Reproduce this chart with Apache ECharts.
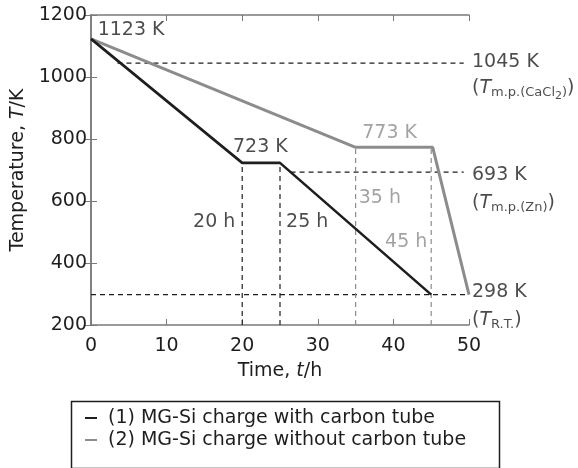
<!DOCTYPE html>
<html>
<head>
<meta charset="utf-8" />
<title>Cooling curves</title>
<script src="https://cdn.jsdelivr.net/npm/echarts@6/dist/echarts.min.js"></script>
<style>
  html, body { margin: 0; padding: 0; background: #fff; }
  #main { width: 578px; height: 468px; }
</style>
</head>
<body>
<div id="main"></div>
<script>
// data
var time1 = [0, 20, 25, 45];
var temp1 = [1123, 723, 723, 298];
var time2 = [0, 35, 45.2, 50];
var temp2 = [1123, 773, 773, 298];
var seriesNames = ['(1) MG-Si charge with carbon tube', '(2) MG-Si charge without carbon tube'];
// horizontal guide lines: [t from, t to, T]
var hGuides = [[3.5, 49.3, 1045], [26.4, 49.3, 693], [0, 49.5, 298]];
// vertical guide lines: [t, T top]
var vGuidesBlack = [[20, 723], [25, 723]];
var vGuidesGrey = [[35, 773], [45, 773]];

var BLACK = '#1e1e1e';
var GREY = '#8c8c8c';
var AXIS = '#7a7a7a';
var FONT = '"DejaVu Sans", sans-serif';

function pairs(xs, ys) {
  return xs.map(function (x, i) { return [x, ys[i]]; });
}

var myChart = echarts.init(document.getElementById('main'), null, { renderer: 'canvas' });

// text annotations, placed in data coords
var notes = [
  { value: [5.3, 1152], text: '1123 K', c: 'k' },
  { value: [22.4, 774], text: '723 K', c: 'k' },
  { value: [39.5, 819], text: '773 K', c: 'g' },
  { value: [16.3, 532], text: '20 h', c: 'k' },
  { value: [28.6, 532], text: '25 h', c: 'k' },
  { value: [38.2, 610], text: '35 h', c: 'g' },
  { value: [41.7, 468], text: '45 h', c: 'g' }
];
var sideNotes = [
  { value: [50, 1048], text: '{n|1045 K}' },
  { value: [50, 964], text: '{n|(}{i|T}{s|m.p.(CaCl}{ss|2}{s|)}{n|)}' },
  { value: [50, 684], text: '{n|693 K}' },
  { value: [50, 594], text: '{n|(}{i|T}{s|m.p.(Zn)}{n|)}' },
  { value: [50, 306], text: '{n|298 K}' },
  { value: [50, 216], text: '{n|(}{i|T}{s|R.T.}{n|)}' }
];

var series = [];
hGuides.forEach(function (g) {
  series.push({
    type: 'line', silent: true, symbol: 'none',
    data: [[g[0], g[2]], [g[1], g[2]]],
    lineStyle: { color: BLACK, width: 1.2, type: [5, 4] }, z: 1
  });
});
vGuidesBlack.forEach(function (g) {
  series.push({
    type: 'line', silent: true, symbol: 'none',
    data: [[g[0], 200], [g[0], g[1]]],
    lineStyle: { color: BLACK, width: 1.2, type: [5, 4] }, z: 1
  });
});
vGuidesGrey.forEach(function (g) {
  series.push({
    type: 'line', silent: true, symbol: 'none',
    data: [[g[0], 200], [g[0], g[1]]],
    lineStyle: { color: GREY, width: 1.2, type: [5, 4] }, z: 1
  });
});
series.push({
  name: seriesNames[0], type: 'line', symbol: 'none',
  data: pairs(time1, temp1), itemStyle: { color: BLACK },
  lineStyle: { color: BLACK, width: 2.6 }, z: 3
});
series.push({
  name: seriesNames[1], type: 'line', symbol: 'none',
  data: pairs(time2, temp2), itemStyle: { color: GREY },
  lineStyle: { color: GREY, width: 3 }, z: 2
});
series.push({
  type: 'scatter', silent: true, symbolSize: 0, clip: false,
  data: notes.map(function (n) {
    return {
      value: n.value,
      label: { show: true, position: 'inside', formatter: n.text,
        color: n.c === 'g' ? GREY : BLACK, fontSize: 19, fontFamily: FONT }
    };
  }), z: 5
});
series.push({
  type: 'scatter', silent: true, symbolSize: 0, clip: false,
  data: sideNotes.map(function (n) {
    return { value: n.value, label: { show: true, position: 'right', distance: 3, formatter: n.text } };
  }),
  label: {
    color: BLACK, fontFamily: FONT,
    rich: {
      n: { fontSize: 19, lineHeight: 22, fontFamily: FONT, color: BLACK },
      i: { fontSize: 19, lineHeight: 22, fontStyle: 'italic', fontFamily: FONT, color: BLACK },
      s: { fontSize: 13, lineHeight: 14, padding: [9, 0, 0, 0], fontFamily: FONT, color: BLACK },
      ss: { fontSize: 11, lineHeight: 12, padding: [15, 0, 0, 0], fontFamily: FONT, color: BLACK }
    }
  }, z: 5
});

var tickStyle = { show: true, inside: true, length: 6, lineStyle: { color: AXIS, width: 1 } };
var lineStyle = { show: true, lineStyle: { color: AXIS, width: 1.5 } };
var nameRich = {
  a: { fontSize: 19, fontFamily: FONT, color: BLACK },
  i: { fontSize: 19, fontFamily: FONT, color: BLACK, fontStyle: 'italic' }
};

myChart.setOption({
  animation: false,
  grid: { left: 91, right: 109, top: 15, bottom: 143 },
  legend: {
    data: seriesNames,
    orient: 'vertical',
    left: 80, top: 402,
    icon: 'rect', itemWidth: 12, itemHeight: 2, itemGap: 0,
    textStyle: { fontSize: 19, fontFamily: FONT, color: BLACK, padding: [0, 0, 0, 6], lineHeight: 22 },
    selectedMode: false
  },
  graphic: [{
    type: 'rect', left: 69, top: 399, silent: true,
    shape: { width: 428, height: 67 },
    style: { fill: 'none', stroke: BLACK, lineWidth: 1.5 }
  }],
  xAxis: [{
    type: 'value', min: 0, max: 50, interval: 10, position: 'bottom',
    axisLine: lineStyle, axisTick: tickStyle, splitLine: { show: false },
    axisLabel: { fontSize: 19, fontFamily: FONT, color: BLACK, margin: 12 },
    name: '{a|Time, }{i|t}{a|/h}', nameLocation: 'middle', nameGap: 37,
    nameTextStyle: { rich: nameRich }
  }, {
    type: 'value', min: 0, max: 50, interval: 10, position: 'top',
    axisLine: lineStyle, axisTick: tickStyle, splitLine: { show: false },
    axisLabel: { show: false }
  }],
  yAxis: [{
    type: 'value', min: 200, max: 1200, interval: 200, position: 'left',
    axisLine: lineStyle, axisTick: tickStyle, splitLine: { show: false },
    axisLabel: { fontSize: 19, fontFamily: FONT, color: BLACK, margin: 4,
      formatter: function (v) { return String(v); } },
    name: '{a|Temperature, }{i|T}{a|/K}', nameLocation: 'middle', nameGap: 62, nameRotate: 90,
    nameTextStyle: { rich: nameRich }
  }, {
    type: 'value', min: 200, max: 1200, interval: 200, position: 'right',
    axisLine: lineStyle, axisTick: tickStyle, splitLine: { show: false },
    axisLabel: { show: false }
  }],
  series: series
});

window.onresize = function () { myChart.resize(); };
</script>
</body>
</html>
